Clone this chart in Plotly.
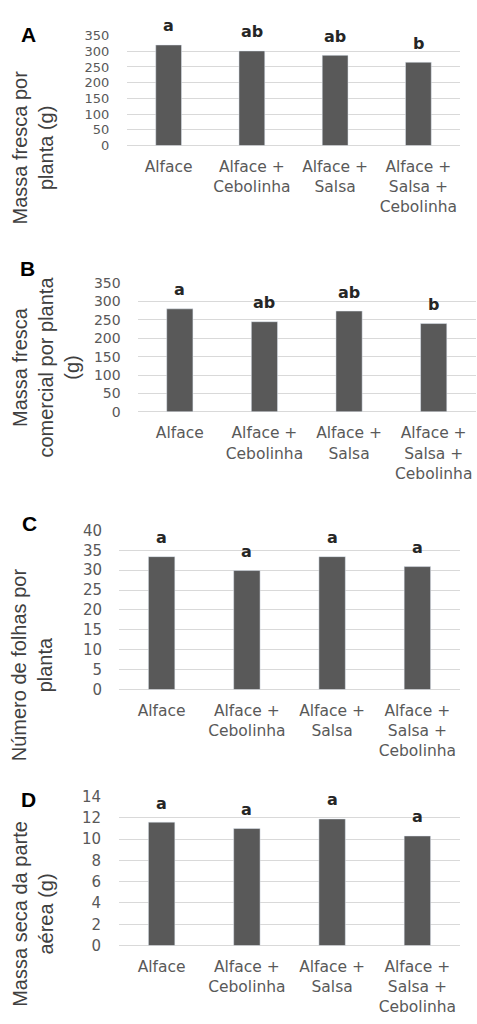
import plotly.graph_objects as go

# ---- data ----
categories = ["Alface", "Alface +<br>Cebolinha", "Alface +<br>Salsa", "Alface +<br>Salsa +<br>Cebolinha"]
massa_fresca = [320, 301, 287, 265]
massa_comercial = [280, 245, 274, 240]
num_folhas = [33.4, 29.9, 33.4, 30.9]
massa_seca = [11.6, 11.0, 11.9, 10.3]
letters_a = ["a", "ab", "ab", "b"]
letters_b = ["a", "ab", "ab", "b"]
letters_c = ["a", "a", "a", "a"]
letters_d = ["a", "a", "a", "a"]
panel_labels = ["A", "B", "C", "D"]
y_titles = ["Massa fresca por<br>planta (g)",
            "Massa fresca<br>comercial por planta<br>(g)",
            "Número de folhas por<br>planta",
            "Massa seca da parte<br>aérea (g)"]
y_max = [350, 350, 40, 14]
y_dtick = [50, 50, 5, 2]

W, H = 477, 1024
BAR = "#595959"
GRID = "#d9d9d9"
TICK = "#595959"

# pixel layout per panel: (x0, x1, ytop, ybottom)
boxes = [(127, 460, 27, 139), (137.5, 476, 279, 410), (119, 460, 530.7, 692.7), (119, 460, 801.7, 953.3)]
title_pos = [(33, 141), (46, 365), (32, 668), (33, 921)]
label_pos = [(28, 26), (27, 264), (29, 524), (28, 805)]
ytick_size = [13, 14, 15, 15]
ytick_len = [14, 13, 13, 14]

series = [massa_fresca, massa_comercial, num_folhas, massa_seca]
letters = [letters_a, letters_b, letters_c, letters_d]

fig = go.Figure()
annotations = []
for i in range(4):
    sfx = "" if i == 0 else str(i + 1)
    xa, ya = "x" + sfx, "y" + sfx
    fig.add_trace(go.Bar(x=categories, y=series[i], marker_color=BAR, width=0.31,
                         xaxis=xa, yaxis=ya, showlegend=False, hoverinfo="skip"))
    x0, x1, yt, yb = boxes[i]
    fig.update_layout(**{
        "xaxis" + sfx: dict(domain=[x0 / W, x1 / W], anchor=ya, type="category",
                            range=[-0.5, 3.5], showgrid=False, showline=False, zeroline=False,
                            ticks="outside", ticklen=7, tickcolor="rgba(0,0,0,0)",
                            tickfont=dict(family="DejaVu Sans", size=15.5, color=TICK)),
        "yaxis" + sfx: dict(domain=[1 - yb / H, 1 - yt / H], anchor=xa,
                            range=[0, y_max[i]], dtick=y_dtick[i], showgrid=True,
                            gridcolor=GRID, gridwidth=1, zeroline=True, zerolinecolor=GRID,
                            zerolinewidth=1, showline=False,
                            ticks="outside", ticklen=ytick_len[i], tickcolor="rgba(0,0,0,0)",
                            tickfont=dict(family="DejaVu Sans", size=ytick_size[i], color=TICK)),
    })
    for c, v, l in zip(categories, series[i], letters[i]):
        annotations.append(dict(x=c, y=v, xref=xa, yref=ya, text=l, showarrow=False,
                                xanchor="center", yanchor="middle", yshift=19,
                                font=dict(family="DejaVu Sans", size=16, color="#262626", weight="bold")))
    tx, ty = title_pos[i]
    annotations.append(dict(x=tx / W, y=1 - ty / H, xref="paper", yref="paper", text=y_titles[i],
                            textangle=-90, showarrow=False, xanchor="center", yanchor="middle",
                            font=dict(family="Liberation Sans", size=20, color="#404040")))
    lx, ly = label_pos[i]
    annotations.append(dict(x=lx / W, y=1 - ly / H, xref="paper", yref="paper", text=panel_labels[i],
                            showarrow=False, xanchor="center", yanchor="middle",
                            font=dict(family="Liberation Sans", size=21, color="#000000", weight="bold")))

fig.update_layout(width=W, height=H, margin=dict(l=0, r=0, t=0, b=0),
                  paper_bgcolor="white", plot_bgcolor="white",
                  annotations=annotations)

fig.write_html("out.html", config={"displayModeBar": False},
               post_script="document.body.style.margin='0';")
